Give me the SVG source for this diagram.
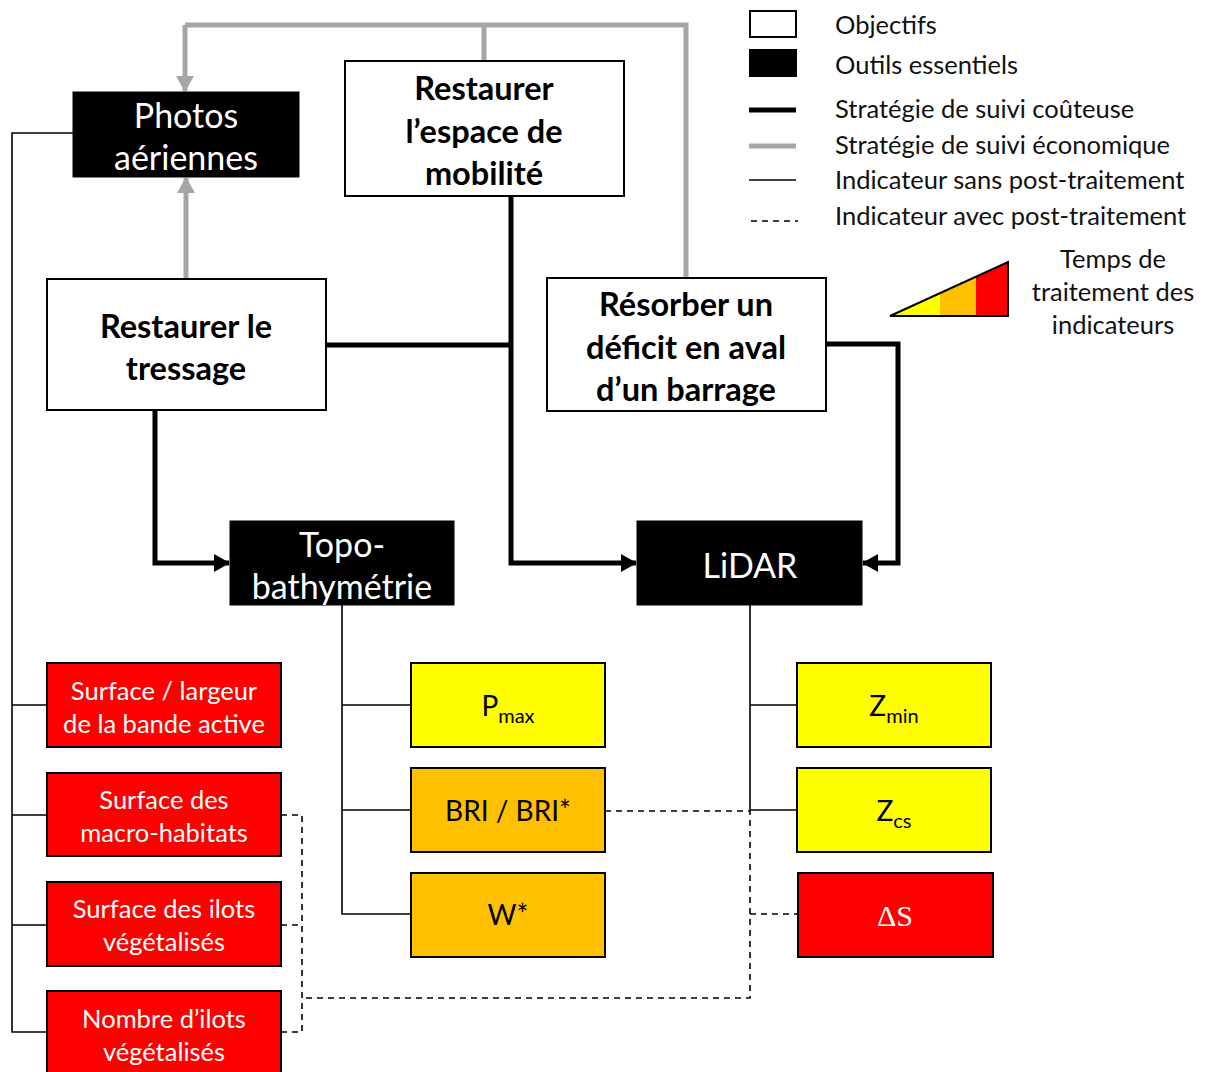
<svg xmlns="http://www.w3.org/2000/svg" width="1206" height="1072" viewBox="0 0 1206 1072">
<style>
text{font-family:Lato,"Open Sans",sans-serif;text-anchor:middle;dominant-baseline:central}
.obj rect{fill:#fff;stroke:#000;stroke-width:2}
.obj text{font-size:32.5px;font-weight:bold;fill:#000}
.tool rect{fill:#000;stroke:#000;stroke-width:1}
.tool text{font-size:34px;fill:#fff}
.ind rect{stroke:#000;stroke-width:2}
.ind text{font-size:25.5px}
.mid text{font-size:28px}
.red{fill:#ff0000}.yel{fill:#ffff00}.ora{fill:#ffc000}
.wt{fill:#fff}.bk{fill:#000}
.leg{font-size:25.5px;text-anchor:start;fill:#111}
.thick{fill:none;stroke:#000;stroke-width:5}
.gray{fill:none;stroke:#a6a6a6;stroke-width:5}
.thin{fill:none;stroke:#000;stroke-width:1.6}
.dash{fill:none;stroke:#000;stroke-width:1.6;stroke-dasharray:6 5}
</style>
<defs>
<marker id="ab" markerUnits="userSpaceOnUse" markerWidth="16" markerHeight="18" refX="15" refY="9" orient="auto"><path d="M0,0 L16,9 L0,18 Z" fill="#000"/></marker>
<marker id="ag" markerUnits="userSpaceOnUse" markerWidth="16" markerHeight="18" refX="15" refY="9" orient="auto"><path d="M0,0 L16,9 L0,18 Z" fill="#a6a6a6"/></marker>
</defs>
<rect width="1206" height="1072" fill="#fff"/>

<g id="connectors">
<path class="gray" d="M484,61 V25 M185,25 H686 V278" />
<path class="gray" d="M185,25 V91" marker-end="url(#ag)"/>
<path class="gray" d="M186,279 V178" marker-end="url(#ag)"/>
<path class="thick" d="M155,410 V563 H229" marker-end="url(#ab)"/>
<path class="thick" d="M511,196 V563 H636" marker-end="url(#ab)"/>
<path class="thick" d="M326,345 H511"/>
<path class="thick" d="M826,344 H898 V563 H863" marker-end="url(#ab)"/>
<path class="thin" d="M73,133 H12 V1032 H47 M12,705 H47 M12,815 H47 M12,925 H47"/>
<path class="thin" d="M342,605 V914 H411 M342,705 H411 M342,810 H411"/>
<path class="thin" d="M750,605 V810 H797 M750,705 H797"/>
<path class="dash" d="M605,811 H750 V998 H302 M750,914 H797"/>
<path class="dash" d="M281,815 H302 V1032 H281 M281,925 H302"/>
</g>

<g id="photos" class="tool"><rect x="73" y="92" width="226" height="85"/><text x="186" y="114">Photos</text><text x="186" y="156">aériennes</text></g>
<g id="espace" class="obj"><rect x="345" y="61" width="279" height="135"/><text x="484" y="87">Restaurer</text><text x="484" y="130">l’espace de</text><text x="484" y="172">mobilité</text></g>
<g id="tressage" class="obj"><rect x="47" y="279" width="279" height="131"/><text x="186" y="325">Restaurer le</text><text x="186" y="367">tressage</text></g>
<g id="deficit" class="obj"><rect x="547" y="278" width="279" height="133"/><text x="686" y="303">Résorber un</text><text x="686" y="346">déficit en aval</text><text x="686" y="388">d’un barrage</text></g>
<g id="topo" class="tool"><rect x="230" y="521" width="224" height="84"/><text x="342" y="543">Topo-</text><text x="342" y="585">bathymétrie</text></g>
<g id="lidar" class="tool"><rect x="637" y="521" width="225" height="84"/><text x="750" y="564">LiDAR</text></g>

<g id="surface-largeur" class="ind"><rect class="red" x="47" y="663" width="234" height="84"/><text class="wt" x="164" y="690">Surface / largeur</text><text class="wt" x="164" y="723">de la bande active</text></g>
<g id="macro-habitats" class="ind"><rect class="red" x="47" y="773" width="234" height="83"/><text class="wt" x="164" y="799">Surface des</text><text class="wt" x="164" y="832">macro-habitats</text></g>
<g id="surface-ilots" class="ind"><rect class="red" x="47" y="882" width="234" height="84"/><text class="wt" x="164" y="908">Surface des ilots</text><text class="wt" x="164" y="941">végétalisés</text></g>
<g id="nombre-ilots" class="ind"><rect class="red" x="47" y="991" width="234" height="90"/><text class="wt" x="164" y="1018">Nombre d’ilots</text><text class="wt" x="164" y="1051">végétalisés</text></g>

<g id="pmax" class="ind mid"><rect class="yel" x="411" y="663" width="194" height="84"/><text class="bk" x="508" y="705">P<tspan font-size="20" dy="10">max</tspan></text></g>
<g id="bri" class="ind mid"><rect class="ora" x="411" y="768" width="194" height="84"/><text class="bk" x="508" y="810">BRI / BRI*</text></g>
<g id="w" class="ind mid"><rect class="ora" x="411" y="873" width="194" height="84"/><text class="bk" x="508" y="914">W*</text></g>
<g id="zmin" class="ind mid"><rect class="yel" x="797" y="663" width="194" height="84"/><text class="bk" x="894" y="705">Z<tspan font-size="20" dy="10">min</tspan></text></g>
<g id="zcs" class="ind mid"><rect class="yel" x="797" y="768" width="194" height="84"/><text class="bk" x="894" y="810">Z<tspan font-size="20" dy="10">cs</tspan></text></g>
<g id="ds" class="ind"><rect class="red" x="798" y="873" width="195" height="84"/><text class="wt" x="895" y="915" style="font-family:'Liberation Serif',serif;font-size:30px">ΔS</text></g>

<g id="legend">
<rect x="750" y="11" width="46" height="26" fill="#fff" stroke="#000" stroke-width="2"/>
<rect x="749" y="49" width="48" height="28" fill="#000"/>
<line x1="749" y1="110" x2="796" y2="110" stroke="#000" stroke-width="5"/>
<line x1="749" y1="146" x2="796" y2="146" stroke="#a6a6a6" stroke-width="5"/>
<line x1="749" y1="180" x2="796" y2="180" stroke="#000" stroke-width="1.6"/>
<line x1="751" y1="221" x2="798" y2="221" stroke="#000" stroke-width="1.6" stroke-dasharray="6 5"/>
<text class="leg" x="835" y="24">Objectifs</text>
<text class="leg" x="835" y="64">Outils essentiels</text>
<text class="leg" x="835" y="108">Stratégie de suivi coûteuse</text>
<text class="leg" x="835" y="144">Stratégie de suivi économique</text>
<text class="leg" x="835" y="179">Indicateur sans post-traitement</text>
<text class="leg" x="835" y="215">Indicateur avec post-traitement</text>
<polygon points="890,316 940,293.5 940,316" fill="#ffff00"/>
<polygon points="940,293.5 976,277 976,316 940,316" fill="#ffc000"/>
<polygon points="976,277 1008,262 1008,316 976,316" fill="#ff0000"/>
<polygon points="890,316 1008,262 1008,316" fill="none" stroke="#000" stroke-width="2"/>
<text x="1113" y="258" style="font-size:25.5px;fill:#111">Temps de</text>
<text x="1113" y="291" style="font-size:25.5px;fill:#111">traitement des</text>
<text x="1113" y="324" style="font-size:25.5px;fill:#111">indicateurs</text>
</g>
</svg>
